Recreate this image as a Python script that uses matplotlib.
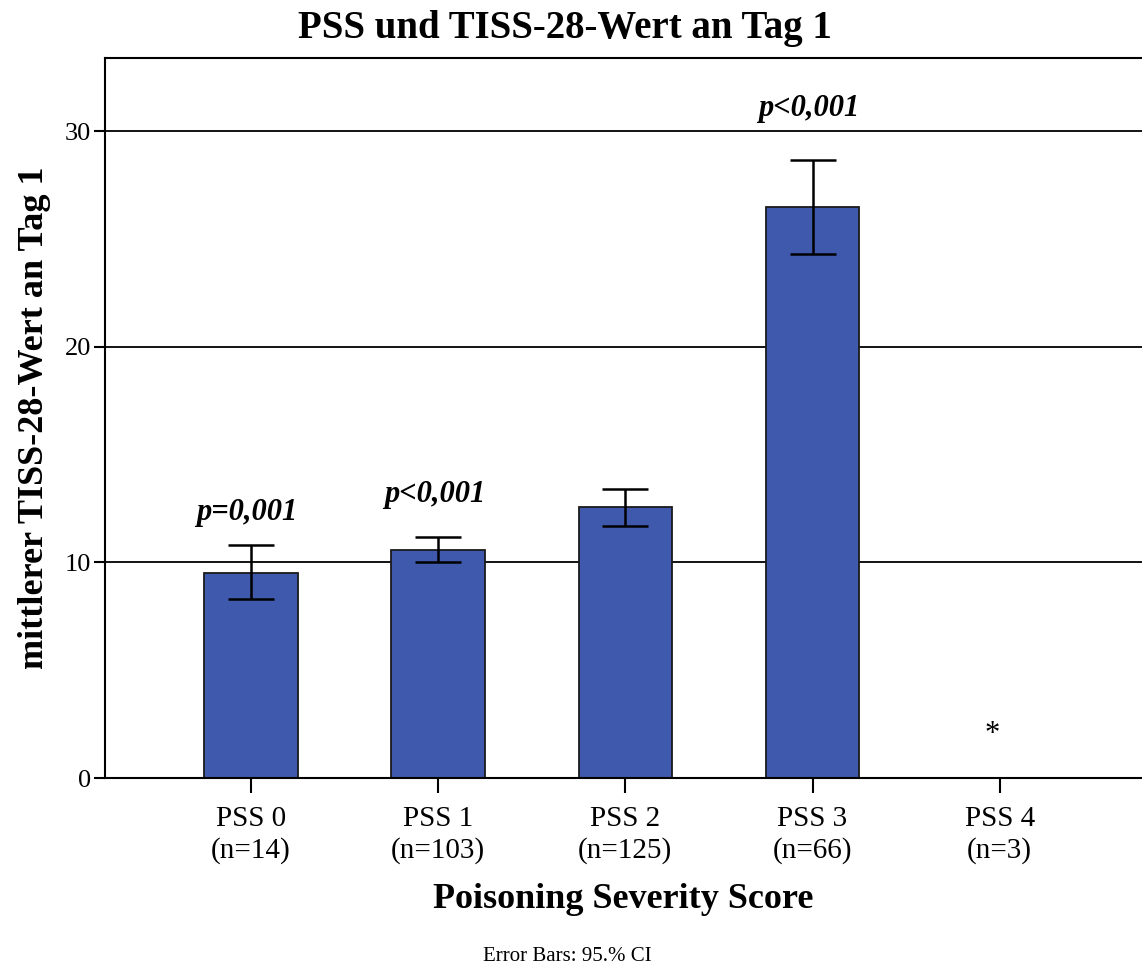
import matplotlib
matplotlib.use("Agg")
import matplotlib.pyplot as plt
import numpy as np

# PSS groups and mean TISS-28 on day 1 with 95% CI bounds
categories = ["PSS 0", "PSS 1", "PSS 2", "PSS 3", "PSS 4"]
group_n = [14, 103, 125, 66, 3]
means = [9.52, 10.57, 12.55, 26.49, np.nan]
ci_low = [8.29, 10.02, 11.68, 24.30, np.nan]
ci_high = [10.80, 11.16, 13.43, 28.65, np.nan]
p_labels = ["p=0,001", "p<0,001", "", "p<0,001", ""]
p_label_y = [12.33, 13.17, np.nan, 31.07, np.nan]

SERIF = ["Liberation Serif", "DejaVu Serif"]
BAR_COLOR = "#3F59AD"

plt.rcParams["font.family"] = SERIF

fig = plt.figure(figsize=(11.42, 9.67), dpi=100)
ax = fig.add_axes([0.0919, 0.1954, 0.9081, 0.7446])

x = np.arange(len(categories))
m = np.array(means)
yerr = np.vstack([m - np.array(ci_low), np.array(ci_high) - m])

ax.set_axisbelow(True)
for yv in (10, 20, 30):
    ax.axhline(yv, color="black", lw=1.3, zorder=0)

ax.bar(x, np.nan_to_num(m), width=0.5, color=BAR_COLOR,
       edgecolor="#1a1a1a", linewidth=1.3, zorder=2)
ok = ~np.isnan(m)
ax.errorbar(x[ok], m[ok], yerr=yerr[:, ok], fmt="none", ecolor="black",
            elinewidth=1.8, capsize=16.5, capthick=1.8, zorder=3)

# significance labels above the bars
for xi, lab, yl in zip(x, p_labels, p_label_y):
    if lab:
        ax.text(xi - 0.02, yl, lab, ha="center", va="center", fontsize=22,
                fontweight="bold", fontstyle="italic")

# too few cases in PSS 4 for a mean
ax.text(x[-1] - 0.04, 2.0, "*", ha="center", va="center", fontsize=22)

ax.set_xlim(-0.78, 4.76)
ax.set_ylim(0, 33.4)
ax.set_yticks([0, 10, 20, 30])
ax.set_xticks(x)
ax.set_xticklabels([f"{c}\n(n={n})" for c, n in zip(categories, group_n)],
                   linespacing=1.25)
ax.tick_params(axis="x", length=11, width=1.5, labelsize=21, pad=9)
ax.tick_params(axis="y", length=8, width=1.5, labelsize=19, pad=2)

for s in ("left", "bottom", "top"):
    ax.spines[s].set_linewidth(1.5)
ax.spines["right"].set_visible(False)

ax.set_ylabel("mittlerer TISS-28-Wert an Tag 1", fontsize=26,
              fontweight="bold", labelpad=10)
ax.set_xlabel("Poisoning Severity Score", fontsize=26, fontweight="bold",
              labelpad=14)

fig.text(0.495, 0.971, "PSS und TISS-28-Wert an Tag 1", ha="center",
         va="center", fontsize=28, fontweight="bold")
fig.text(0.497, 0.011, "Error Bars: 95.% CI", ha="center", va="center",
         fontsize=15)

fig.savefig("out.png", dpi=100)
